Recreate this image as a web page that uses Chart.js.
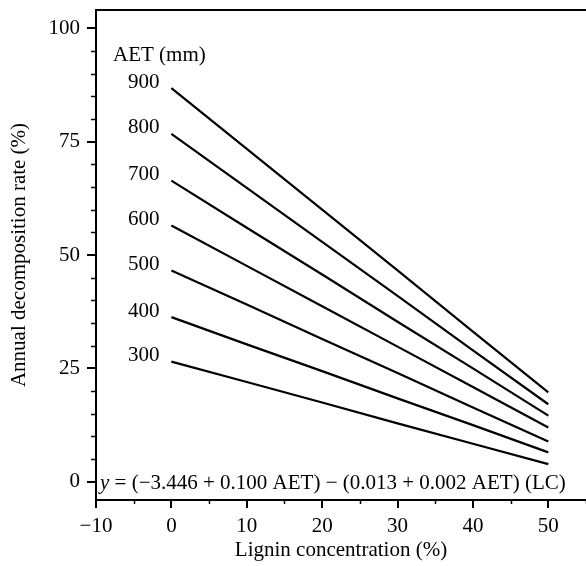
<!DOCTYPE html>
<html lang="en">
<head>
  <meta charset="UTF-8">
  <title>Decomposition vs Lignin</title>
  <script src="https://cdn.jsdelivr.net/npm/chart.js"></script>
  <style>
    body { margin: 0; background: #fff; }
    .chart-container { width: 586px; height: 566px; }
  </style>
</head>
<body>
<div class="chart-container">
  <canvas id="decompChart"></canvas>
</div>

<script>
  // values
  var lignin = [0, 10, 20, 30, 40, 50];
  var aetLevels = [900, 800, 700, 600, 500, 400, 300];
  var rate900 = [86.8, 73.4, 60.0, 46.6, 33.1, 19.7];
  var rate800 = [76.7, 64.8, 52.9, 41.0, 29.0, 17.1];
  var rate700 = [66.4, 56.0, 45.7, 35.3, 25.0, 14.6];
  var rate600 = [56.5, 47.6, 38.7, 29.8, 20.9, 12.0];
  var rate500 = [46.6, 39.1, 31.5, 24.0, 16.4, 8.9];
  var rate400 = [36.3, 30.3, 24.4, 18.4, 12.5, 6.5];
  var rate300 = [26.5, 22.0, 17.5, 12.9, 8.4, 3.9];
  var xTicks = [-10, 0, 10, 20, 30, 40, 50];
  var yTicks = [0, 25, 50, 75, 100];
  var equation = '(\u22123.446 + 0.100 AET) \u2212 (0.013 + 0.002 AET) (LC)';

  var allRates = [rate900, rate800, rate700, rate600, rate500, rate400, rate300];
  var serif = '"Liberation Serif", "DejaVu Serif", serif';
  var fs = 21;

  var datasets = allRates.map(function(r, i) {
    return {
      label: String(aetLevels[i]),
      data: lignin.map(function(x, j) { return { x: x, y: r[j] }; }),
      borderColor: '#000',
      borderWidth: 2.2,
      pointRadius: 0,
      fill: false,
      tension: 0
    };
  });

  // minor ticks, top frame and text labels
  var extras = {
    id: 'extras',
    afterDraw: function(chart) {
      var ctx = chart.ctx;
      var xs = chart.scales.x, ys = chart.scales.y;
      var area = chart.chartArea;
      ctx.save();
      ctx.strokeStyle = '#000';
      ctx.lineWidth = 2;
      ctx.beginPath();
      ctx.moveTo(area.left - 1, area.top);
      ctx.lineTo(area.right, area.top);
      ctx.stroke();

      ctx.lineWidth = 1.5;
      for (var v = 0; v <= 100; v += 5) {
        if (v % 25 === 0) continue;
        var py = Math.round(ys.getPixelForValue(v)) + 0.5;
        ctx.beginPath();
        ctx.moveTo(area.left - 5, py);
        ctx.lineTo(area.left, py);
        ctx.stroke();
      }
      for (var u = -5; u <= 55; u += 10) {
        var px = Math.round(xs.getPixelForValue(u)) + 0.5;
        ctx.beginPath();
        ctx.moveTo(px, area.bottom);
        ctx.lineTo(px, area.bottom + 4);
        ctx.stroke();
      }

      ctx.fillStyle = '#000';
      ctx.font = fs + 'px ' + serif;
      ctx.textBaseline = 'middle';
      ctx.textAlign = 'left';
      ctx.fillText('AET (mm)', 113, 55);
      ctx.textAlign = 'right';
      allRates.forEach(function(r, i) {
        var lx = xs.getPixelForValue(lignin[0]) - 12;
        var ly = ys.getPixelForValue(r[0]) - 6;
        ctx.fillText(String(aetLevels[i]), lx, ly);
      });

      ctx.textAlign = 'left';
      ctx.textBaseline = 'alphabetic';
      var ex = area.left + 4, ey = ys.getPixelForValue(0) + 7;
      ctx.font = 'italic ' + fs + 'px ' + serif;
      ctx.fillText('y', ex, ey);
      var w = ctx.measureText('y').width;
      ctx.font = fs + 'px ' + serif;
      ctx.fillText(' = ' + equation, ex + w, ey);
      ctx.restore();
    }
  };

  var ctx = document.getElementById('decompChart').getContext('2d');
  new Chart(ctx, {
    type: 'line',
    data: { datasets: datasets },
    options: {
      responsive: true,
      maintainAspectRatio: false,
      animation: false,
      layout: { padding: { top: 10, right: 0, left: 0, bottom: 0 } },
      plugins: {
        legend: { display: false },
        tooltip: { enabled: false }
      },
      scales: {
        x: {
          type: 'linear',
          min: -10,
          max: 55,
          afterBuildTicks: function(scale) {
            scale.ticks = xTicks.map(function(v) { return { value: v }; });
          },
          afterFit: function(scale) {
            scale.height = 66;
            scale.paddingLeft = 0;
            scale.paddingRight = 0;
          },
          ticks: {
            color: '#000',
            font: { family: serif, size: fs },
            padding: 6,
            maxRotation: 0,
            callback: function(v) { return v < 0 ? '\u2212' + Math.abs(v) : String(v); }
          },
          grid: { display: true, drawOnChartArea: false, tickLength: 8, color: '#000', lineWidth: 2 },
          border: { display: true, color: '#000', width: 2 },
          title: {
            display: true,
            text: 'Lignin concentration (%)',
            color: '#000',
            font: { family: serif, size: fs },
            padding: { top: 2, bottom: 3 }
          }
        },
        y: {
          type: 'linear',
          min: -4,
          max: 104,
          afterBuildTicks: function(scale) {
            scale.ticks = yTicks.map(function(v) { return { value: v }; });
          },
          afterFit: function(scale) {
            scale.width = 96;
            scale.paddingTop = 0;
            scale.paddingBottom = 0;
          },
          ticks: {
            color: '#000',
            font: { family: serif, size: fs },
            padding: 7
          },
          grid: { display: true, drawOnChartArea: false, tickLength: 9, color: '#000', lineWidth: 2 },
          border: { display: true, color: '#000', width: 2 },
          title: {
            display: true,
            text: 'Annual decomposition rate (%)',
            color: '#000',
            font: { family: serif, size: fs },
            padding: { top: 7, bottom: 0 }
          }
        }
      }
    },
    plugins: [extras]
  });
</script>
</body>
</html>
